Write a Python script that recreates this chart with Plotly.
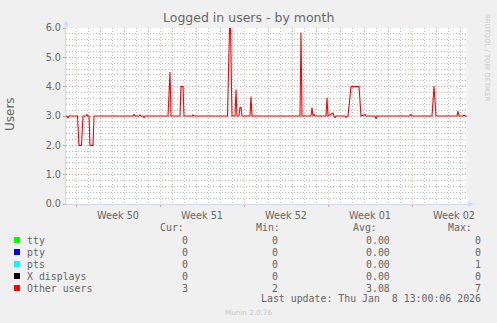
import pandas as pd
import plotly.graph_objects as go

# ---------------- data ----------------
# hours since Mon 2025-12-08 00:00, and "Other users" values
hours = [-20, -18, -16, -14, 3, 6, 11, 14, 20, 22, 24, 26, 28, 34, 36,
         114, 116, 118, 126, 128, 130, 134, 136, 138,
         184, 188, 190, 208, 210, 214, 216, 232, 234, 236,
         303, 307, 309, 312, 318, 320, 322, 326, 328, 330, 332, 348, 350, 352,
         448, 450, 452, 470, 472, 474, 476, 478, 500, 502, 504,
         514, 516, 518, 520, 538, 540, 542, 544, 550, 566, 570, 578, 580,
         598, 600, 602, 668, 670, 672, 712, 716, 720, 762, 764, 766,
         774, 776, 778, 782]
other_users = [3.0, 3.0, 2.92, 3.0, 3.0, 2.0, 2.0, 3.0, 3.0, 3.05, 3.0, 3.0, 2.0, 2.0, 3.0,
               3.0, 3.06, 3.0, 3.0, 3.04, 3.0, 3.0, 2.94, 3.0,
               3.0, 4.5, 3.0, 3.0, 4.0, 4.0, 3.0, 3.0, 3.04, 3.0,
               3.0, 5.98, 5.98, 3.0, 3.0, 3.9, 3.0, 3.0, 3.3, 3.3, 3.0, 3.0, 3.66, 3.0,
               3.0, 5.85, 3.0, 3.0, 3.29, 3.0, 3.05, 3.0, 3.0, 3.63, 3.0,
               3.1, 3.0, 2.94, 3.0, 3.0, 2.95, 3.0, 3.0, 4.0, 4.0, 3.0, 3.05, 3.0,
               3.0, 2.9, 3.0, 3.0, 3.06, 3.0, 3.0, 4.01, 3.0, 3.0, 3.17, 3.0,
               3.0, 3.03, 3.0, 3.0]

legend_labels = ["tty", "pty", "pts", "X displays", "Other users"]
legend_colors = ["#00FF00", "#0000FF", "#00FFFF", "#000000", "#FF0000"]
cur_vals = ["0", "0", "0", "0", "3"]
min_vals = ["0", "0", "0", "0", "2"]
avg_vals = ["0.00", "0.00", "0.00", "0.00", "3.08"]
max_vals = ["0", "0", "1", "0", "7"]
last_update = "Last update: Thu Jan  8 13:00:06 2026"

title = "Logged in users - by month"
y_title = "Users"

# ---------------- figure ----------------
base = pd.Timestamp("2025-12-08 00:00")
times = [base + pd.Timedelta(hours=h) for h in hours]

W, H = 497, 323
L, R, T, B = 66, 467, 28, 204


def px(x):
    return (x - L) / (R - L)


def py(y):
    return (B - y) / (B - T)


FONT = "DejaVu Sans"
MONO = "DejaVu Sans Mono"
FC = "#666666"
GRID = "rgba(143,143,143,0.6)"
MGRID = "rgba(222,79,79,0.6)"
MGRID_X = "rgba(222,79,79,0.4)"
DOT = "1px,2px"
AXIS = "#CFD6F8"

fig = go.Figure()
fig.add_trace(go.Scatter(x=times, y=other_users, mode="lines",
                         line=dict(color="#FF0000", width=1.1),
                         name="Other users", showlegend=False))

fig.update_layout(
    width=W, height=H, autosize=False,
    margin=dict(l=L, r=W - R, t=T, b=H - B, pad=0),
    paper_bgcolor="#F0F0F0", plot_bgcolor="#FFFFFF",
    showlegend=False,
    font=dict(family=FONT, color=FC, size=9.7),
)

fig.update_xaxes(
    type="date",
    range=[base + pd.Timedelta(hours=-20), base + pd.Timedelta(hours=782)],
    tick0="2025-12-08", dtick=7 * 86400000,
    ticklabelmode="period", tickformat="Week %V",
    showgrid=True, gridcolor=MGRID_X, griddash=DOT, gridwidth=1,
    minor=dict(dtick=86400000, tick0="2025-12-08", showgrid=True,
               gridcolor=GRID, griddash=DOT, gridwidth=1),
    ticks="outside", ticklen=2, tickcolor=MGRID,
    showline=True, linecolor=AXIS, linewidth=1,
    zeroline=False, tickfont=dict(size=9.7, color=FC),
)
fig.update_yaxes(
    range=[0, 6], tick0=0, dtick=1, tickformat=".1f",
    showgrid=True, gridcolor=MGRID, griddash=DOT, gridwidth=1,
    minor=dict(dtick=0.2, showgrid=True, gridcolor=GRID, griddash=DOT, gridwidth=1),
    ticks="outside", ticklen=2, tickcolor=MGRID,
    showline=True, linecolor=AXIS, linewidth=1,
    zeroline=False, tickfont=dict(size=9.7, color=FC),
)

ann = []
ann.append(dict(text=title, x=px(248), y=py(18), xref="paper", yref="paper",
                showarrow=False, xanchor="center", yanchor="middle",
                font=dict(family=FONT, size=12.5, color=FC)))
ann.append(dict(text=y_title, x=px(10), y=py(114), xref="paper", yref="paper",
                showarrow=False, xanchor="center", yanchor="middle", textangle=-90,
                font=dict(family=FONT, size=12, color=FC)))
ann.append(dict(text="RRDTOOL / TOBI OETIKER", x=px(487), y=py(58), xref="paper", yref="paper",
                showarrow=False, xanchor="center", yanchor="middle", textangle=90,
                font=dict(family=FONT, size=6.8, color="#C8C8C8")))
ann.append(dict(text="Munin 2.0.76", x=px(248), y=py(312), xref="paper", yref="paper",
                showarrow=False, xanchor="center", yanchor="middle",
                font=dict(family=FONT, size=7.2, color="#C8C8C8")))

mono = dict(family=MONO, size=9.9, color=FC)
row0 = 228
for hx, htxt in [(159, "Cur:"), (254.7, "Min:"), (351.7, "Avg:"), (447, "Max:")]:
    ann.append(dict(text=htxt, x=px(hx), y=py(row0), xref="paper", yref="paper",
                    showarrow=False, xanchor="left", yanchor="middle", font=mono, borderpad=0))

shapes = []
for i, lab in enumerate(legend_labels):
    yy = row0 + 12 * (i + 1)
    ann.append(dict(text=lab, x=px(26), y=py(yy), xref="paper", yref="paper",
                    showarrow=False, xanchor="left", yanchor="middle", font=mono, borderpad=0))
    for cx, vals in [(189, cur_vals), (279, min_vals), (391, avg_vals), (482, max_vals)]:
        ann.append(dict(text=vals[i], x=px(cx), y=py(yy), xref="paper", yref="paper",
                        showarrow=False, xanchor="right", yanchor="middle", font=mono, borderpad=0))
    shapes.append(dict(type="rect", xref="paper", yref="paper",
                       x0=px(14), x1=px(20), y0=py(yy - 3), y1=py(yy + 3),
                       fillcolor=legend_colors[i], line=dict(width=0)))

ann.append(dict(text=last_update, x=px(482), y=py(298.5), xref="paper", yref="paper",
                showarrow=False, xanchor="right", yanchor="middle", font=mono, borderpad=0))

# axis extensions and arrows
shapes.append(dict(type="line", xref="paper", yref="paper", x0=px(L), x1=px(L),
                   y0=py(T), y1=py(22), line=dict(color=AXIS, width=1)))
shapes.append(dict(type="line", xref="paper", yref="paper", x0=px(R), x1=px(470),
                   y0=py(B), y1=py(B), line=dict(color=AXIS, width=1)))
shapes.append(dict(type="path", xref="paper", yref="paper",
                   path=f"M {px(63.5)} {py(25.5)} L {px(68.5)} {py(25.5)} L {px(66)} {py(20)} Z",
                   fillcolor=AXIS, line=dict(width=0)))
shapes.append(dict(type="path", xref="paper", yref="paper",
                   path=f"M {px(468.5)} {py(201.5)} L {px(468.5)} {py(206.5)} L {px(474)} {py(204)} Z",
                   fillcolor=AXIS, line=dict(width=0)))

fig.update_layout(annotations=ann, shapes=shapes)
fig.write_html("out.html")
